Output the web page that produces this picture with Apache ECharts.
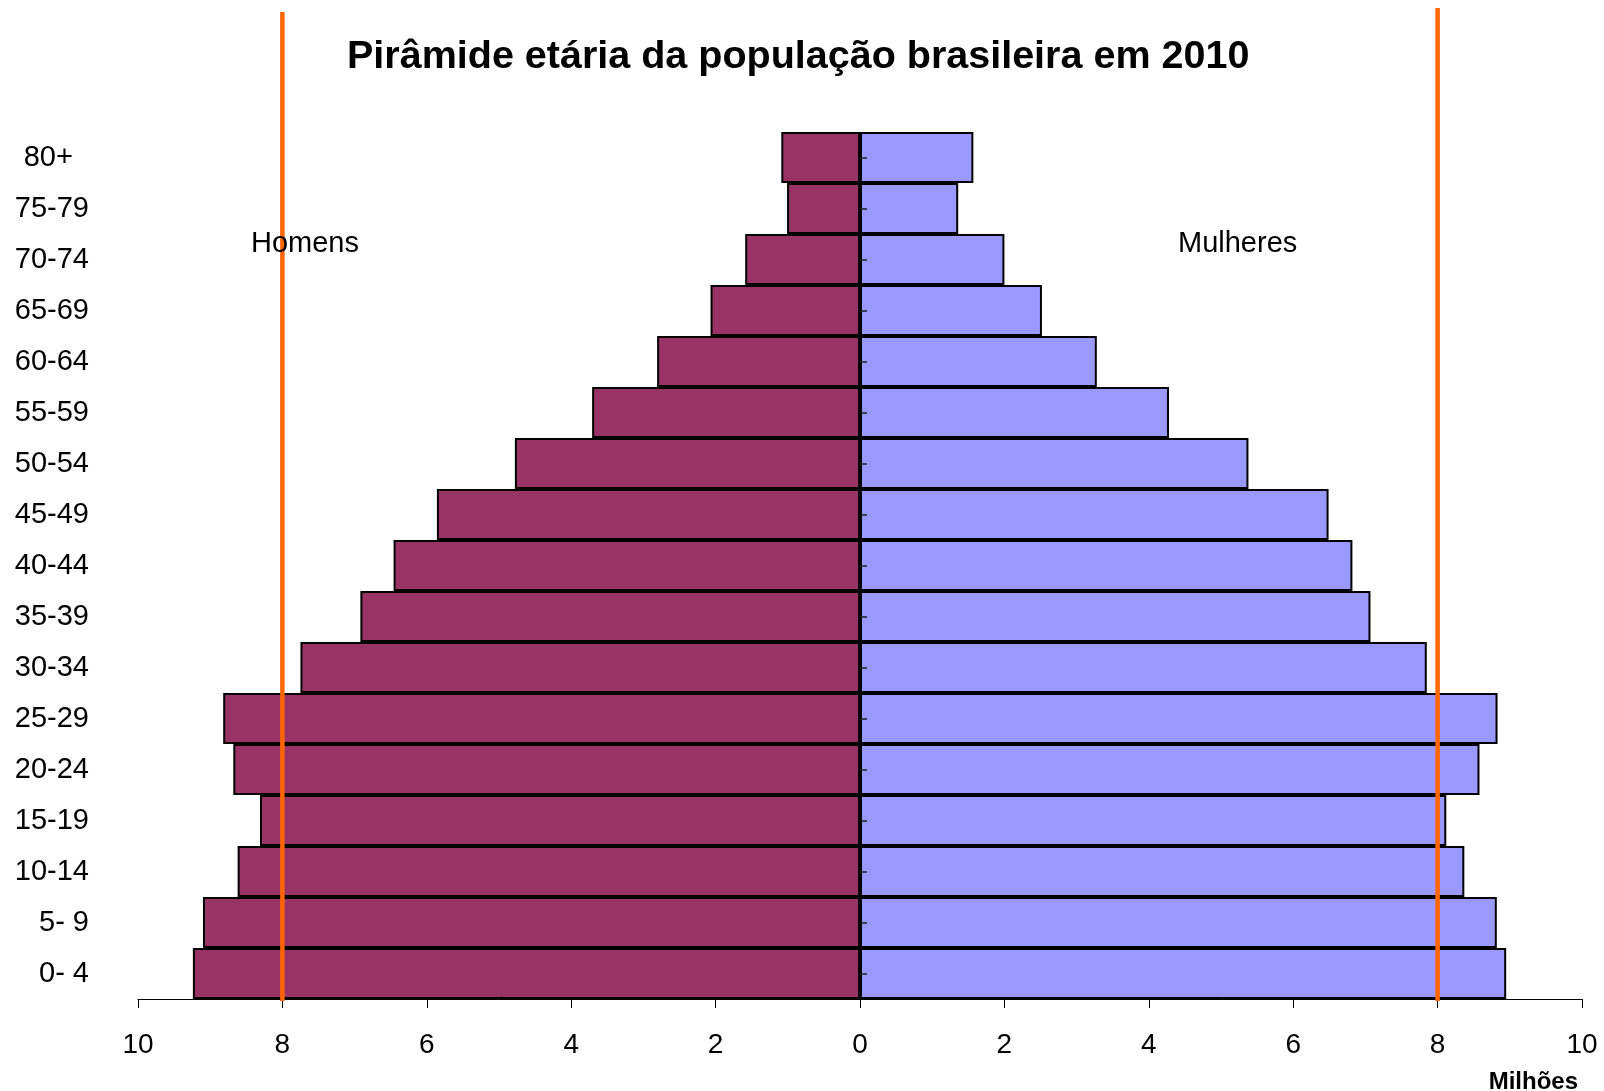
<!DOCTYPE html>
<html>
<head>
<meta charset="utf-8">
<title>Pirâmide etária 2010</title>
<script src="https://cdn.jsdelivr.net/npm/echarts@6/dist/echarts.min.js"></script>
<style>
  html, body { margin: 0; padding: 0; background: #fff; }
  #chart { width: 1604px; height: 1091px; }
</style>
</head>
<body>
<div id="chart"></div>
<script>
// faixas etárias, de baixo para cima
const ageGroups = ['0- 4', '5- 9', '10-14', '15-19', '20-24', '25-29', '30-34', '35-39',
  '40-44', '45-49', '50-54', '55-59', '60-64', '65-69', '70-74', '75-79', '80+  '];
// milhões de pessoas
const homens = [9.24, 9.10, 8.62, 8.31, 8.68, 8.82, 7.75, 6.92, 6.46, 5.86, 4.78, 3.71, 2.81, 2.07, 1.59, 1.01, 1.09];
const mulheres = [8.95, 8.82, 8.37, 8.12, 8.58, 8.83, 7.85, 7.07, 6.82, 6.49, 5.38, 4.28, 3.28, 2.52, 2.00, 1.36, 1.57];
// linhas de referência (laranja) em 8 milhões
const refLines = [-8, 8];
const xTicks = { min: -10, max: 10, interval: 2 };

const FONT = '"Liberation Sans", Arial, sans-serif';

const chart = echarts.init(document.getElementById('chart'), null, { renderer: 'canvas' });

chart.setOption({
  backgroundColor: '#ffffff',
  animation: false,
  title: {
    text: 'Pirâmide etária da população brasileira em 2010',
    left: 347,
    top: 37,
    padding: 0,
    textStyle: { fontFamily: FONT, fontSize: 39.5, fontWeight: 'bold', color: '#000' },
  },
  grid: { left: 138, right: 22, top: 132, bottom: 92, containLabel: false },
  xAxis: {
    type: 'value',
    min: xTicks.min,
    max: xTicks.max,
    interval: xTicks.interval,
    axisLine: { show: true, lineStyle: { color: '#000', width: 1 } },
    axisTick: { show: true, length: 9, lineStyle: { color: '#000' } },
    splitLine: { show: false },
    axisLabel: {
      margin: 32,
      fontFamily: FONT,
      fontSize: 28,
      color: '#000',
      formatter: (v) => String(Math.abs(v)),
    },
  },
  yAxis: [{
    // rótulos à esquerda
    type: 'category',
    data: ageGroups,
    position: 'left',
    axisLine: { show: false, onZero: false },
    axisTick: { show: false },
    axisLabel: { margin: 49, padding: [4, 0, 0, 0], fontFamily: FONT, fontSize: 29, color: '#000' },
  }, {
    // eixo central com marcas pequenas
    type: 'category',
    data: ageGroups,
    position: 'left',
    z: 5,
    axisLine: { show: false, onZero: true },
    axisTick: { show: true, inside: true, alignWithLabel: true, length: 7, lineStyle: { color: '#222', width: 1.5 } },
    axisLabel: { show: false },
  }],
  series: [{
    name: 'Homens',
    type: 'bar',
    stack: 'pop',
    barCategoryGap: 0,
    itemStyle: { color: '#993366', borderColor: '#000', borderWidth: 2 },
    data: homens.map((v) => -v),
  }, {
    name: 'Mulheres',
    type: 'bar',
    stack: 'pop',
    barCategoryGap: 0,
    itemStyle: { color: '#9999FF', borderColor: '#000', borderWidth: 2 },
    data: mulheres,
  }],
});

// linhas laranja e textos, posicionados pela escala do eixo x
const axisY = chart.convertToPixel({ yAxisIndex: 0 }, ageGroups[0]) + 867 / 34;
const lineTops = [12, 8];
const graphics = refLines.map((v, i) => {
  const x = chart.convertToPixel({ xAxisIndex: 0 }, v);
  return {
    type: 'line',
    z: 10,
    shape: { x1: x, y1: lineTops[i], x2: x, y2: axisY + 2 },
    style: { stroke: '#FF6600', lineWidth: 4.5 },
  };
});
graphics.push(
  { type: 'text', z: 11, x: 251, y: 244,
    style: { text: 'Homens', font: '29px ' + FONT, fill: '#000', align: 'left', verticalAlign: 'middle' } },
  { type: 'text', z: 11, x: 1178, y: 244,
    style: { text: 'Mulheres', font: '29px ' + FONT, fill: '#000', align: 'left', verticalAlign: 'middle' } },
  { type: 'text', z: 11, x: 1578, y: 1082,
    style: { text: 'Milhões', font: 'bold 24px ' + FONT, fill: '#000', align: 'right', verticalAlign: 'middle' } }
);
chart.setOption({ graphic: graphics });
</script>
</body>
</html>
